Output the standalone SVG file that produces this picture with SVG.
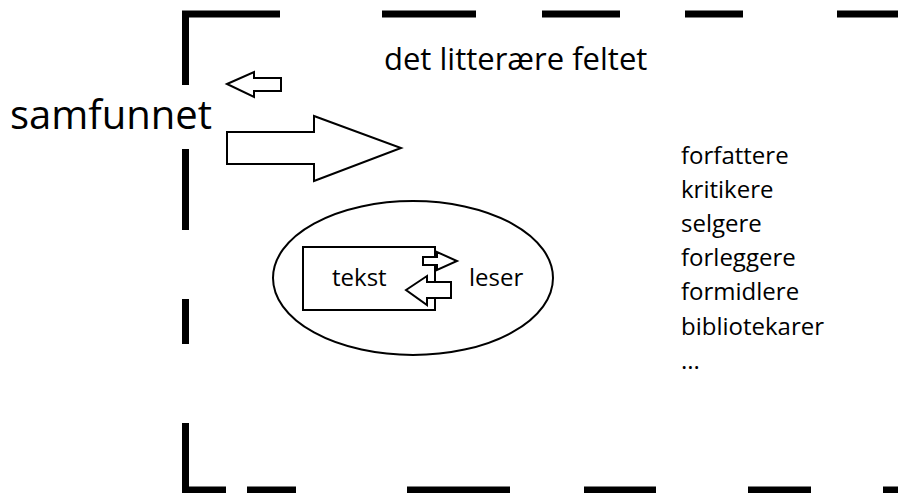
<svg xmlns="http://www.w3.org/2000/svg" width="898" height="493" viewBox="0 0 898 493">
<style>
.frame{fill:none;stroke:#000;stroke-width:7;stroke-linecap:butt;stroke-linejoin:miter}
.shape{fill:#fff;stroke:#000;stroke-width:2;stroke-linejoin:miter}
.t{font-family:"Open Sans","Noto Sans",sans-serif;fill:#000}
</style>
<rect width="898" height="493" fill="#fff"/>
<g id="field-frame">
<path class="frame" d="M185.5,85 V14 H280 M382,14 H476 M542,14 H620 M685,14 H743 M837,14 H898 M185.5,149 V230 M185.5,299 V344 M185.5,423 V490 H226 M247,490 H296 M407,490 H510 M584,490 H656 M748,490 H811 M883,490 H898"/>
</g>
<g id="samfunnet">
<text class="t" x="10" y="129" font-size="40">samfunnet</text>
</g>
<g id="field-title">
<text class="t" x="384" y="70" font-size="31">det litterære feltet</text>
</g>
<g id="actors">
<text class="t" font-size="24">
<tspan x="681" y="164">forfattere</tspan>
<tspan x="681" y="198">kritikere</tspan>
<tspan x="681" y="232">selgere</tspan>
<tspan x="681" y="266">forleggere</tspan>
<tspan x="681" y="300">formidlere</tspan>
<tspan x="681" y="335">bibliotekarer</tspan>
<tspan x="681" y="369">...</tspan>
</text>
</g>
<g id="ellipse-node">
<ellipse class="shape" cx="413" cy="278" rx="140" ry="77"/>
</g>
<g id="tekst">
<rect class="shape" x="303" y="247" width="132" height="63"/>
<text class="t" x="332" y="286" font-size="24">tekst</text>
</g>
<g id="leser">
<text class="t" x="469" y="286" font-size="24">leser</text>
</g>
<g id="connectors">
<polygon class="shape" points="227,84 254,72 254,78 281,78 281,91 254,91 254,97"/>
<polygon class="shape" points="227,132 314,132 314,116 401,148 314,181 314,164 227,164"/>
<polygon class="shape" points="423,257 437,257 437,252 457,261 437,270 437,265 423,265"/>
<polygon class="shape" points="406,290 427,276 427,282 451,282 451,298 427,298 427,305"/>
</g>
</svg>
